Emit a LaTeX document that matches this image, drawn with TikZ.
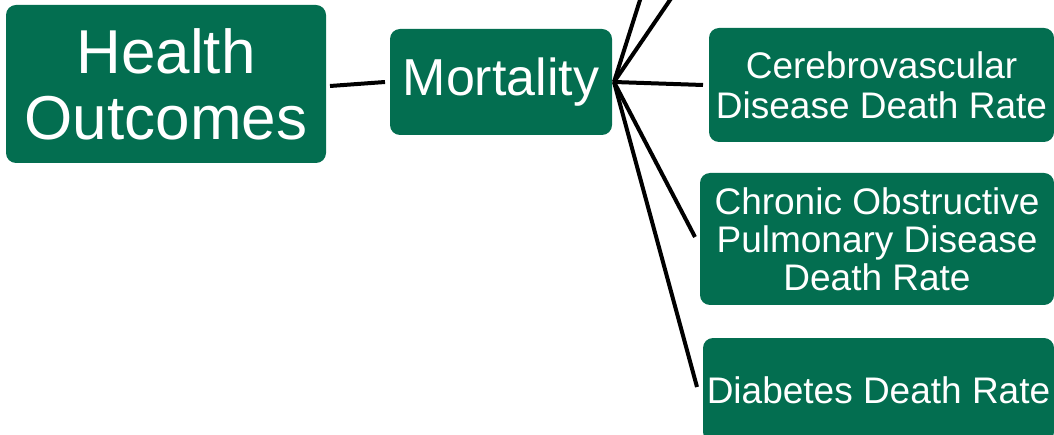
\documentclass[tikz,border=0pt]{standalone}
\usepackage{fontspec}
\setmainfont{Liberation Sans}
\usetikzlibrary{calc}
\definecolor{boxgreen}{RGB}{3,110,80}
\begin{document}
\begin{tikzpicture}[x=1pt,y=-1pt,
  gbox/.style={fill=boxgreen,draw=none,rounded corners=10pt,text=white,align=center,inner sep=0pt},
  conn/.style={line width=4pt,black}]
\useasboundingbox (0,0) rectangle (1054,435);
\begin{scope}
\clip (0,0) rectangle (1054,435);
\node[gbox,minimum width=320pt,minimum height=158pt,font=\fontsize{62}{66}\selectfont] (ho) at (166,84) {Health\\Outcomes};
\node[gbox,minimum width=222pt,minimum height=106pt,font=\fontsize{52}{56}\selectfont] (mo) at (501,82) {Mortality};
\node[gbox,minimum width=345pt,minimum height=114pt,font=\fontsize{37}{40}\selectfont] (cv) at (881.5,85) {Cerebrovascular\\Disease Death Rate};
\node[gbox,minimum width=354pt,minimum height=132pt,font=\fontsize{37}{38}\selectfont] (copd) at (877,239) {Chronic Obstructive\\Pulmonary Disease\\Death Rate};
\node[gbox,minimum width=351pt,minimum height=104pt,font=\fontsize{37}{40}\selectfont] (db) at (878.5,390) {Diabetes Death Rate};
\coordinate (fan) at (614,82);
\coordinate (up1) at (640,0);
\coordinate (up2) at (670,0);
\coordinate (cvin) at (703,85);
\coordinate (copdin) at (695,237);
\coordinate (dbin) at (697,387);
\coordinate (hoout) at (330,86);
\coordinate (moin) at (385,82);
\draw[conn] (hoout) -- (moin);
\draw[conn] (fan) -- ($(fan)!1.2!(up1)$);
\draw[conn] (fan) -- ($(fan)!1.2!(up2)$);
\draw[conn] (fan) -- (cvin);
\draw[conn] (fan) -- (copdin);
\draw[conn] (fan) -- (dbin);
\end{scope}
\end{tikzpicture}
\end{document}
